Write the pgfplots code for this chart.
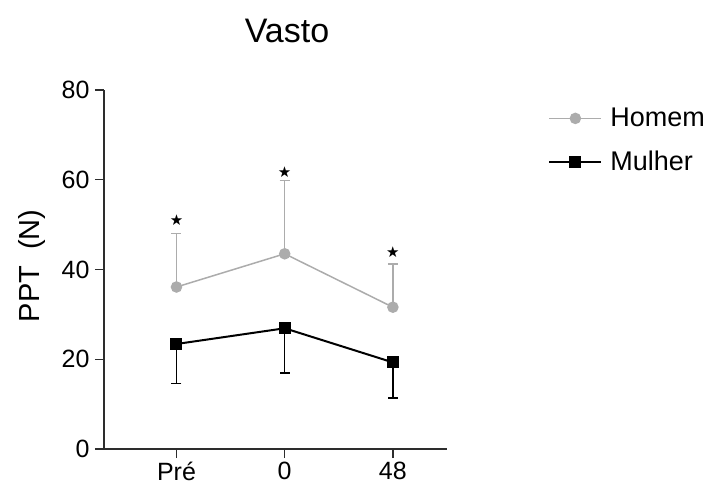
\documentclass[border=0pt]{standalone}
\usepackage{fontspec}
\setmainfont{Liberation Sans}
\newfontfamily\symfont{DejaVu Sans}
\usepackage{pgfplots}
\pgfplotsset{compat=1.18}
\usepackage{pgfplotstable}
\definecolor{homem}{RGB}{172,172,172}
\definecolor{axiscol}{RGB}{45,45,45}

\pgfplotstableread{
x y e
0 36.1 11.9
1 43.5 16.3
2 31.6 9.6
}\homemdata
\pgfplotstableread{
x y e
0 23.4 8.8
1 26.9 9.9
2 19.3 7.9
}\mulherdata

\begin{document}
\begin{tikzpicture}
\useasboundingbox (-104pt,-44pt) rectangle (606pt,449pt);
\begin{axis}[
  scale only axis,
  width=343pt, height=359pt,
  xmin=-0.67, xmax=2.50,
  ymin=0, ymax=80,
  axis lines*=left,
  axis line style={line width=1.3pt, color=axiscol},
  xtick={0,1,2},
  xticklabels={Pré,0,48},
  ytick={0,20,40,60,80},
  tick align=outside,
  major tick length=9pt,
  tick style={line width=1.3pt, color=axiscol},
  /pgf/number format/assume math mode=true,
  tick label style={font=\fontsize{25}{28}\selectfont, color=black},
  yticklabel style={xshift=-2pt},
  xticklabel style={yshift=-1pt},
  ylabel={PPT\hspace{0.55em}(N)},
  ylabel style={at={(axis description cs:-0.21,0.51)}, anchor=center, font=\fontsize{29}{32}\selectfont},
  legend style={at={(axis description cs:1.295,0.955)}, anchor=north west, draw=none, fill=none,
    font=\fontsize{27}{30}\selectfont, row sep=19pt, inner sep=0pt,
    /tikz/every odd column/.append style={column sep=6pt}},
  legend cell align=left,
  legend image code/.code={\draw[#1, mark repeat=2, mark phase=2] plot coordinates {(0pt,0pt) (26pt,0pt) (52pt,0pt)};},
  clip=false,
]
\addplot[color=homem, line width=1.5pt, mark=*, mark size=5pt, mark options={fill=homem, draw=homem},
  error bars/.cd, y dir=plus, y explicit,
  error bar style={line width=1.3pt, color=homem},
  error mark options={rotate=90, mark size=5pt, line width=1.3pt, color=homem}]
  table[x=x, y=y, y error=e] {\homemdata};
\addlegendentry{Homem}
\addplot[color=black, line width=2pt, mark=square*, mark size=5pt, mark options={fill=black, draw=black},
  error bars/.cd, y dir=minus, y explicit,
  error bar style={line width=1.6pt, color=black},
  error mark options={rotate=90, mark size=5pt, line width=1.6pt, color=black}]
  table[x=x, y=y, y error=e] {\mulherdata};
\addlegendentry{Mulher}
\addplot[draw=none, mark=none, forget plot, nodes near coords, point meta=explicit symbolic,
  every node near coord/.style={anchor=center, font=\symfont\fontsize{15}{15}\selectfont, color=black}]
  coordinates {(0,50.9)[★] (1,61.8)[★] (2,43.9)[★]};
\end{axis}
\node[anchor=base, font=\fontsize{34}{38}\selectfont] at (183pt,406pt) {Vasto};
\end{tikzpicture}
\end{document}
